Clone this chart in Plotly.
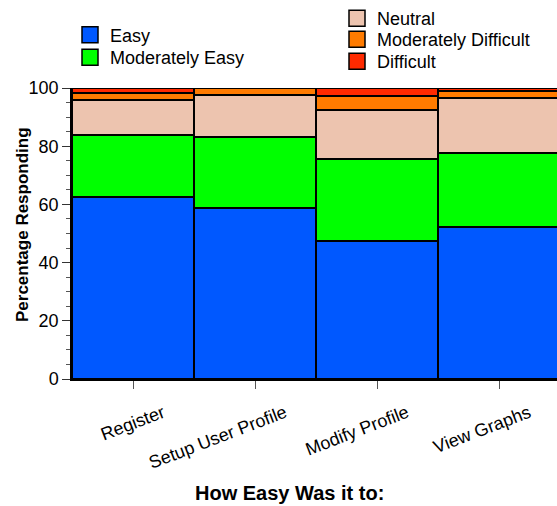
import plotly.graph_objects as go

# Survey tasks (x categories)
tasks = ["Register", "Setup User Profile", "Modify Profile", "View Graphs"]

# Percentage of respondents per difficulty rating, one list per rating
easy = [62.5, 58.6, 47.5, 52.2]
moderately_easy = [21.5, 24.4, 28.2, 25.4]
neutral = [12.0, 14.6, 16.9, 18.8]
moderately_difficult = [2.2, 2.4, 4.5, 2.4]
difficult = [1.8, 0.0, 2.9, 1.2]

ratings = ["Easy", "Moderately Easy", "Neutral", "Moderately Difficult", "Difficult"]
series = [easy, moderately_easy, neutral, moderately_difficult, difficult]
colors = ["#0058FF", "#00FF00", "#EDC4AF", "#FF7B00", "#FF2A00"]

FONT = "Liberation Sans, Arial, Helvetica, sans-serif"

W, H = 557, 506
L, T, B, R = 72, 88, 127, 0
pw, ph = W - L - R, H - T - B


def px_x(p):
    return (p - L) / pw


def px_y(p):
    return (H - B - p) / ph


# one single-entry legend per rating: (left edge px, row centre px)
legend_spots = [(70, 35), (70, 57.5), (337, 18), (337, 39.5), (337, 61.5)]

fig = go.Figure()
for i, (name, vals, col) in enumerate(zip(ratings, series, colors)):
    fig.add_trace(go.Bar(
        x=tasks, y=vals, name=name,
        marker=dict(color=col, line=dict(color="black", width=2)),
        showlegend=False,
    ))
    lg = "legend" if i == 0 else f"legend{i + 1}"
    fig.add_trace(go.Scatter(
        x=[None], y=[None], mode="markers", name=name,
        marker=dict(symbol="square", size=16, color=col,
                    line=dict(color="black", width=1.5)),
        legend=lg, showlegend=True,
    ))

legend_layouts = {}
for i, (lx, ly) in enumerate(legend_spots):
    key = "legend" if i == 0 else f"legend{i + 1}"
    legend_layouts[key] = dict(
        x=px_x(lx), y=px_y(ly), xanchor="left", yanchor="middle",
        bgcolor="rgba(0,0,0,0)", font=dict(size=18),
        itemclick=False, itemdoubleclick=False,
    )

fig.update_layout(
    width=W, height=H,
    margin=dict(l=L, r=R, t=T, b=B),
    barmode="stack", bargap=0,
    plot_bgcolor="white", paper_bgcolor="white",
    font=dict(family=FONT, size=17, color="black"),
    xaxis=dict(
        range=[-0.5, 3.5 - 3 / 122],
        showline=True, linecolor="black", linewidth=1.5,
        ticks="outside", ticklen=8, tickcolor="#555", tickwidth=1,
        tickangle=-21, tickfont=dict(size=18),
        ticklabelshift=30, ticklabelstandoff=7,
        showgrid=False, zeroline=False,
    ),
    yaxis=dict(
        range=[0, 100], dtick=20,
        showline=True, linecolor="black", linewidth=1.5,
        ticks="outside", ticklen=8, tickcolor="#333", tickwidth=1,
        minor=dict(dtick=5, ticks="outside", ticklen=4, tickcolor="#555"),
        tickfont=dict(size=18),
        showgrid=False, zeroline=False,
    ),
    annotations=[
        dict(text="<b>How Easy Was it to:</b>", xref="paper", yref="paper",
             x=px_x(289), y=px_y(493), xanchor="center", yanchor="middle",
             showarrow=False, font=dict(size=20)),
        dict(text="<b>Percentage Responding</b>", xref="paper", yref="paper",
             x=px_x(22), y=px_y(225), xanchor="center", yanchor="middle",
             textangle=-90, showarrow=False, font=dict(size=17)),
    ],
    **legend_layouts,
)

fig.write_html("out.html")
